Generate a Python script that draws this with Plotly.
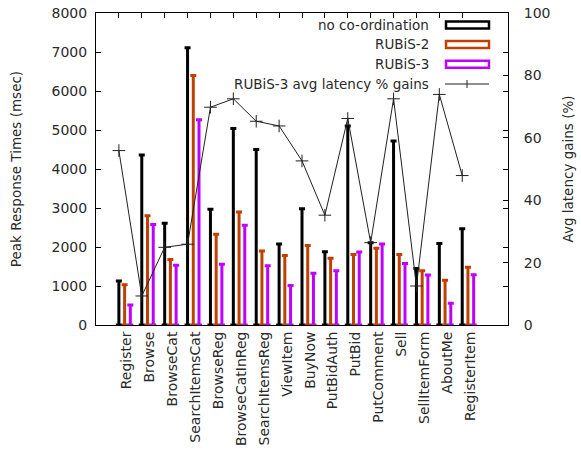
import plotly.graph_objects as go

categories = ["Register", "Browse", "BrowseCat", "SearchItemsCat", "BrowseReg",
              "BrowseCatInReg", "SearchItemsReg", "ViewItem", "BuyNow", "PutBidAuth",
              "PutBid", "PutComment", "Sell", "SellItemForm", "AboutMe", "RegisterItem"]
no_coord = [1130, 4360, 2610, 7110, 2970, 5040, 4500, 2080, 2980, 1880,
            5100, 2110, 4720, 1450, 2090, 2470]
rubis2 = [1030, 2800, 1680, 6400, 2330, 2900, 1900, 1780, 2040, 1710,
          1810, 1970, 1810, 1390, 1150, 1480]
rubis3 = [510, 2580, 1530, 5260, 1560, 2560, 1520, 1010, 1330, 1390,
          1870, 2080, 1580, 1280, 560, 1290]
gains = [55.9, 9.3, 24.9, 25.9, 69.8, 72.5, 65.3, 63.8, 52.6, 35.2,
         66.2, 26.4, 72.5, 12.5, 73.9, 47.9]

series = [("no co-ordination", no_coord, "#000000", 0.0),
          ("RUBiS-2", rubis2, "#c04000", 0.25),
          ("RUBiS-3", rubis3, "#c000ff", 0.5)]

FONT = "DejaVu Sans, sans-serif"
TXT = "#2a2a2a"
FS = 14
FS2 = 13.5

fig = go.Figure()
idx = list(range(len(categories)))
for name, vals, col, off in series:
    fig.add_trace(go.Scatter(
        x=[i + off for i in idx], y=vals, mode="markers", name=name,
        marker=dict(size=1, color=col),
        error_y=dict(type="data", symmetric=False, array=[0] * len(vals),
                     arrayminus=vals, color=col, thickness=3, width=3),
        showlegend=False, hoverinfo="y"))

fig.add_trace(go.Scatter(
    x=idx, y=gains, yaxis="y2", mode="lines+markers",
    name="RUBiS-3 avg latency % gains",
    line=dict(color="#202020", width=1),
    marker=dict(symbol="cross-thin", size=9, line=dict(color="#202020", width=1)),
    showlegend=False))

# Manual gnuplot-style legend (text left, sample right), plot-area pixel helpers
def px(x):
    return (x - 96) / 412
def py(y):
    return (325 - y) / 312

legend_rows = [("no co-ordination", "#000000", 25), ("RUBiS-2", "#c04000", 44.5),
               ("RUBiS-3", "#c000ff", 64.3)]
shapes = []
annotations = []
for text, col, yy in legend_rows:
    annotations.append(dict(x=px(431), y=py(yy), xref="paper", yref="paper",
                            text=text, showarrow=False, xanchor="right", yanchor="middle",
                            font=dict(family=FONT, size=FS2, color=TXT)))
    shapes.append(dict(type="rect", xref="paper", yref="paper",
                       x0=px(446), x1=px(489), y0=py(yy + 3.5), y1=py(yy - 3.5),
                       line=dict(color=col, width=2.5), fillcolor="rgba(0,0,0,0)"))
annotations.append(dict(x=px(431), y=py(84), xref="paper", yref="paper",
                        text="RUBiS-3 avg latency % gains", showarrow=False,
                        xanchor="right", yanchor="middle",
                        font=dict(family=FONT, size=FS2, color=TXT)))
shapes.append(dict(type="line", xref="paper", yref="paper", x0=px(445), x1=px(489),
                   y0=py(84), y1=py(84), line=dict(color="#202020", width=1)))
shapes.append(dict(type="line", xref="paper", yref="paper", x0=px(467), x1=px(467),
                   y0=py(80), y1=py(88), line=dict(color="#202020", width=1)))

fig.update_layout(
    width=581, height=463,
    margin=dict(l=96, r=73, t=13, b=138, autoexpand=False),
    paper_bgcolor="white", plot_bgcolor="white",
    font=dict(family=FONT, size=FS, color=TXT),
    shapes=shapes, annotations=annotations,
    xaxis=dict(range=[-1, 17], tickmode="array", tickvals=idx, ticktext=categories,
               tickangle=-90, ticks="inside", ticklen=5, tickcolor="#000",
               showline=True, linecolor="#000", linewidth=1, mirror="ticks",
               showgrid=False, zeroline=False, ticklabelshift=8, automargin=False,
               tickfont=dict(family=FONT, size=FS, color=TXT)),
    yaxis=dict(range=[0, 8000], dtick=1000, ticks="inside", ticklen=5, tickcolor="#000",
               showline=True, linecolor="#000", linewidth=1, mirror="ticks",
               showgrid=False, zeroline=False, automargin=False, ticklabelstandoff=5,
               title=dict(text="Peak Response Times (msec)", standoff=26,
                          font=dict(family=FONT, size=FS2, color=TXT)),
               tickfont=dict(family=FONT, size=FS, color=TXT)),
    # labels of the right axis (invisible outside ticks push them off the frame)
    yaxis2=dict(range=[0, 100], dtick=20, overlaying="y", side="right",
                ticks="outside", ticklen=12, tickcolor="rgba(0,0,0,0)", showgrid=False,
                zeroline=False, showline=False, automargin=False,
                title=dict(text="Avg latency gains (%)", standoff=14,
                           font=dict(family=FONT, size=FS2, color=TXT)),
                tickfont=dict(family=FONT, size=FS, color=TXT)),
    # visible inside tick marks of the right axis
    yaxis3=dict(range=[0, 100], dtick=20, overlaying="y", side="right",
                ticks="inside", ticklen=5, tickcolor="#000", showgrid=False,
                zeroline=False, showline=False, automargin=False,
                showticklabels=False),
)
fig.add_trace(go.Scatter(x=[None], y=[None], yaxis="y3", showlegend=False,
                         hoverinfo="skip"))

fig.write_html("out.html", post_script="document.body.style.margin='0';",
               config={"displayModeBar": False})
